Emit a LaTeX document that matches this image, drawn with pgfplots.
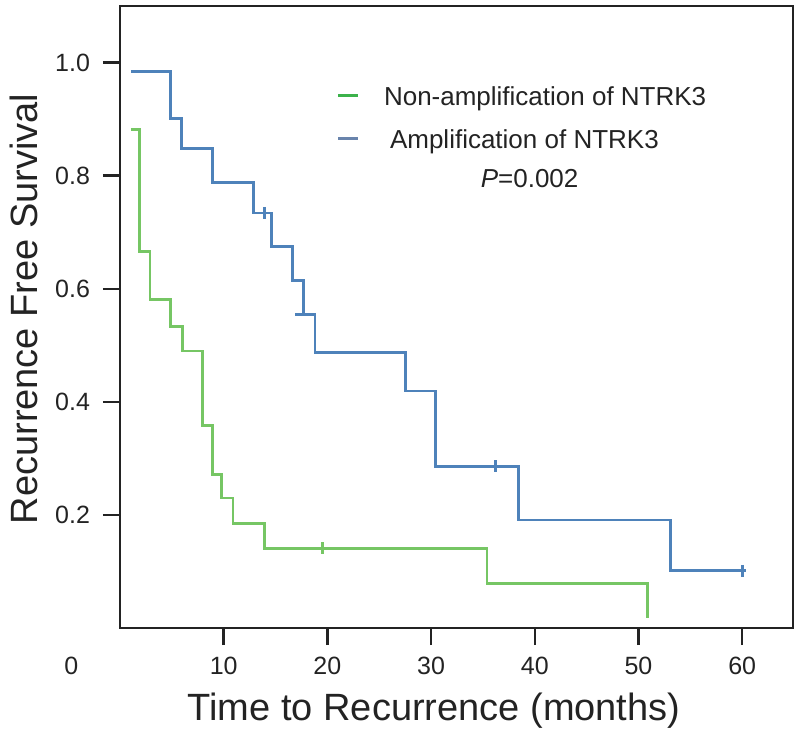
\documentclass[border=0pt]{standalone}
\usepackage{fontspec}
\setmainfont{Liberation Sans}
\usepackage{pgfplots}
\pgfplotsset{compat=1.18}
\definecolor{kmgreen}{RGB}{118,198,100}
\definecolor{kmblue}{RGB}{78,130,186}
\definecolor{leggreen}{RGB}{60,178,75}
\definecolor{legblue}{RGB}{105,132,172}
\definecolor{axgray}{RGB}{35,35,35}
\begin{document}
\begin{tikzpicture}
\begin{axis}[
  name=ax,
  scale only axis,
  width=336.5pt, height=311pt,
  xmin=0, xmax=64.9, ymin=0, ymax=1.1,
  axis line style={line width=1.2pt, axgray},
  tick style={line width=1.2pt, axgray},
  tick align=outside, tick pos=left,
  major tick length=8.5pt,
  xtick={10,20,30,40,50,60},
  xticklabels={10,20,30,40,50,60},
  ytick={0.2,0.4,0.6,0.8,1.0},
  yticklabels={0.2,0.4,0.6,0.8,1.0},
  ticklabel style={font=\fontsize{12.5}{15}\selectfont, text=axgray},
  xticklabel style={anchor=north, yshift=-2.5pt},
  yticklabel style={anchor=east, xshift=-3pt},
  xlabel={Time to Recurrence (months)},
  ylabel={Recurrence Free Survival},
  xlabel style={at={(rel axis cs:0.4666,-0.1335)}, anchor=center, font=\fontsize{19}{22}\selectfont, text=axgray},
  ylabel style={at={(rel axis cs:-0.1426,0.513)}, anchor=center, font=\fontsize{19}{22}\selectfont, text=axgray},
  clip=false,
  legend image code/.code={\draw[#1] (0pt,1.5pt) -- (10pt,1.5pt); \path[draw=none] (0pt,0pt) -- (23pt,0pt);},
  legend cell align=left,
  legend style={at={(rel axis cs:0.321,0.873)}, anchor=north west, draw=none, fill=none, inner sep=0pt,
    font=\fontsize{13}{15}\selectfont, text=axgray, row sep=8.7pt,
    nodes={inner sep=0pt, text height=10pt, text depth=3pt},
    /tikz/every odd column/.style={column sep=0pt}},
]
% Non-amplification (green)
\addplot[const plot, kmgreen, line width=1.4pt, forget plot] coordinates {
(1.06,0.881) (1.87,0.666) (2.9,0.581) (4.9,0.533) (6.0,0.490) (7.94,0.358)
(8.9,0.271) (9.8,0.230) (10.9,0.185) (13.9,0.141) (35.4,0.079) (50.9,0.017)
};
\addplot[only marks, mark=|, mark size=3pt, kmgreen, mark options={line width=1.4pt}, forget plot] coordinates {(19.5,0.141)};
% Amplification (blue)
\addplot[const plot, kmblue, line width=1.4pt, forget plot] coordinates {
(1.06,0.984) (4.9,0.901) (5.95,0.848) (8.9,0.788) (12.86,0.734) (14.6,0.675)
(16.6,0.615) (17.7,0.555) (18.8,0.487) (27.55,0.419) (30.4,0.286) (38.4,0.191)
(53.1,0.101) (60.4,0.101)
};
\addplot[only marks, mark=|, mark size=3pt, kmblue, mark options={line width=1.4pt}, forget plot] coordinates {(13.9,0.734) (36.2,0.286) (60.0,0.101)};
\addplot[only marks, mark=-, mark size=4.5pt, kmblue, mark options={line width=1.4pt}, forget plot] coordinates {(17.7,0.555)};
\addlegendimage{leggreen, line width=1.6pt}
\addlegendentry{Non-amplification of NTRK3}
\addlegendimage{legblue, line width=1.6pt}
\addlegendentry{\hspace{3pt}Amplification of NTRK3}
\node[font=\fontsize{13}{15}\selectfont, text=axgray] at (axis cs:39.5,0.795) {\textit{P}=0.002};
\end{axis}
\node[font=\fontsize{12.5}{15}\selectfont, text=axgray, anchor=north] at ([xshift=-24.3pt, yshift=-11pt]ax.south west) {0};
\pgfresetboundingbox
\path ([shift={(-60pt,-53.5pt)}]ax.south west) rectangle ([shift={(3.5pt,3pt)}]ax.north east);
\end{tikzpicture}
\end{document}
